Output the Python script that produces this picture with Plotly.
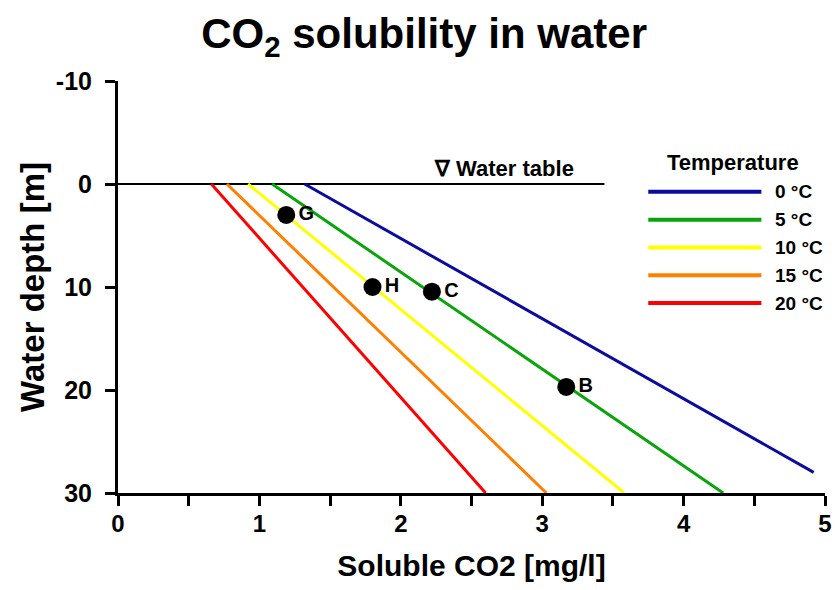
import plotly.graph_objects as go

# temperature lines: solubility at the water table and at the deepest point drawn
temps = ["0 °C", "5 °C", "10 °C", "15 °C", "20 °C"]
colors = ["#0b0b9e", "#0aa50a", "#ffff00", "#ff8000", "#ff0000"]
co2_top = [1.32, 1.09, 0.92, 0.77, 0.66]
depth_top = [0, 0, 0, 0, 0]
co2_bottom = [4.92, 4.28, 3.58, 3.03, 2.60]
depth_bottom = [28.0, 30, 30, 30, 30]

# sample points
sample_names = ["G", "H", "C", "B"]
sample_co2 = [1.19, 1.80, 2.22, 3.17]
sample_depth = [3.0, 10.0, 10.45, 19.7]

# water table
water_table_x = [0, 3.44]
water_table_y = [0, 0]

x_ticks = [0, 0.5, 1, 1.5, 2, 2.5, 3, 3.5, 4, 4.5, 5]
x_ticklabels = ["0", "", "1", "", "2", "", "3", "", "4", "", "5"]
y_ticks = [-10, 0, 10, 20, 30]
y_ticklabels = ["-10", "0", "10", "20", "30"]

FONT = "Liberation Sans, Arial, sans-serif"

def bold(size):
    return dict(family=FONT, size=size, color="black", weight="bold")

fig = go.Figure()

fig.add_trace(go.Scatter(
    x=water_table_x, y=water_table_y, mode="lines",
    line=dict(color="black", width=2), showlegend=False, hoverinfo="skip"
))

for i in range(len(temps)):
    fig.add_trace(go.Scatter(
        x=[co2_top[i], co2_bottom[i]],
        y=[depth_top[i], depth_bottom[i]],
        mode="lines",
        line=dict(color=colors[i], width=3),
        name=temps[i],
        showlegend=False
    ))

fig.add_trace(go.Scatter(
    x=sample_co2, y=sample_depth, mode="markers+text",
    marker=dict(color="black", size=18),
    text=sample_names, textposition="middle right",
    textfont=bold(20),
    showlegend=False
))

fig.add_annotation(
    x=2.73, y=-1.5, xref="x", yref="y", text="<b>∇ Water table</b>",
    xanchor="center", yanchor="middle",
    showarrow=False, font=bold(22)
)

# hand-drawn legend (long line samples like the original)
fig.add_annotation(
    x=0.87, y=0.803, xref="paper", yref="paper", text="<b>Temperature</b>",
    xanchor="center", yanchor="middle",
    showarrow=False, font=bold(22)
)
for i in range(len(temps)):
    yy = 0.731 - i * 0.0675
    fig.add_shape(type="line", xref="paper", yref="paper",
                  x0=0.75, x1=0.91, y0=yy, y1=yy,
                  line=dict(color=colors[i], width=4))
    fig.add_annotation(
        x=0.926, y=yy, xref="paper", yref="paper", text="<b>" + temps[i] + "</b>",
        xanchor="left", yanchor="middle", showarrow=False,
        font=bold(19)
    )

# page body has an 8px margin, so the figure is kept smaller than the window
fig.update_layout(
    width=824, height=574,
    paper_bgcolor="white", plot_bgcolor="white",
    margin=dict(l=110, r=7, t=73, b=89),
    font=dict(family=FONT, color="black"),
    title=dict(
        text="<b>CO<sub>2</sub> solubility in water</b>",
        x=0.505, xanchor="center", y=0.956, yanchor="middle",
        font=bold(42)
    ),
    xaxis=dict(
        range=[0, 5], tickvals=x_ticks, ticktext=x_ticklabels,
        showline=True, linecolor="black", linewidth=3,
        ticks="outside", ticklen=10, tickwidth=3, tickcolor="black",
        showgrid=False, zeroline=False, automargin=False,
        tickfont=bold(24), ticklabelstandoff=-3,
        title=dict(text="<b>Soluble CO2 [mg/l]</b>", standoff=22,
                   font=bold(30))
    ),
    yaxis=dict(
        range=[30, -10], tickvals=y_ticks, ticktext=y_ticklabels,
        showline=True, linecolor="black", linewidth=3,
        ticks="outside", ticklen=10, tickwidth=3, tickcolor="black",
        showgrid=False, zeroline=False, automargin=False,
        tickfont=bold(25), ticklabelstandoff=8,
        title=dict(text="<b>Water depth [m]</b>", standoff=2,
                   font=bold(33))
    )
)

fig.write_html("out.html")
